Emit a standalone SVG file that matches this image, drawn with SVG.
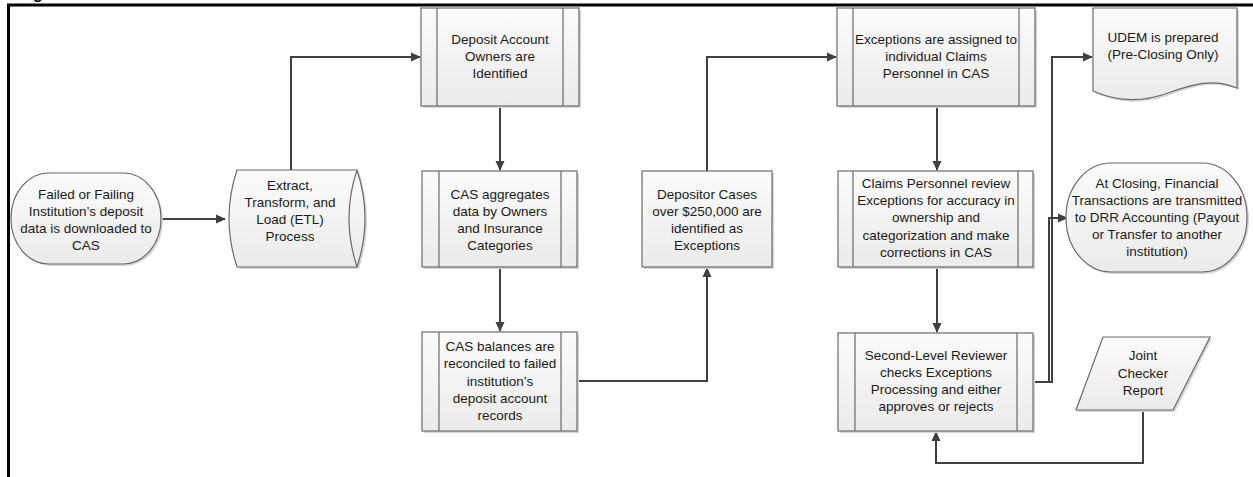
<svg xmlns="http://www.w3.org/2000/svg" width="1253" height="477" viewBox="0 0 1253 477">
<style>
.shape{fill:url(#g);stroke:#6b6b6b;stroke-width:1.2}
.shadow{fill:#d6d6d6}
.inner{stroke:#6b6b6b;stroke-width:1.2;fill:none}
.conn{fill:none;stroke:#404040;stroke-width:2}
text{font-family:"Liberation Sans",Arial,sans-serif;font-size:13.5px;fill:#1a1a1a;text-anchor:middle}
.frame{stroke:#000;stroke-width:3;fill:none}
</style>
<defs>
<linearGradient id="g" x1="0" y1="0" x2="0" y2="1">
<stop offset="0" stop-color="#fbfbfb"/>
<stop offset="1" stop-color="#ebebeb"/>
</linearGradient>
<marker id="arr" markerWidth="10" markerHeight="10" refX="9" refY="5" orient="auto" markerUnits="userSpaceOnUse">
<path d="M0,0.5 L10,5 L0,9.5 Z" fill="#404040"/>
</marker>
</defs>
<rect width="1253" height="477" fill="#fff"/>
<text x="38" y="-1" style="font-size:16px;font-weight:bold;fill:#000">g</text>
<path class="frame" d="M8.5,477 V5 H1253"/>

<g id="connectors">
<path class="conn" d="M161,219 H225" marker-end="url(#arr)"/>
<path class="conn" d="M291,170 V57 H420" marker-end="url(#arr)"/>
<path class="conn" d="M500,106 V170" marker-end="url(#arr)"/>
<path class="conn" d="M500,267 V331" marker-end="url(#arr)"/>
<path class="conn" d="M577,381 H707 V268" marker-end="url(#arr)"/>
<path class="conn" d="M707,171 V57 H836" marker-end="url(#arr)"/>
<path class="conn" d="M937,106 V170" marker-end="url(#arr)"/>
<path class="conn" d="M937,267 V332" marker-end="url(#arr)"/>
<path class="conn" d="M1033,382 H1052 V57 H1092" marker-end="url(#arr)"/>
<path class="conn" d="M1033,382 H1049 V218 H1067" marker-end="url(#arr)"/>
<path class="conn" d="M1143,410 V463 H936 V432" marker-end="url(#arr)"/>
</g>

<g id="n-failed">
<rect class="shadow" x="13" y="175" width="150" height="91" rx="38" ry="45"/>
<rect class="shape" x="11" y="173" width="150" height="91" rx="38" ry="45"/>
<text x="86" y="199">Failed or Failing</text>
<text x="86" y="216">Institution’s deposit</text>
<text x="86" y="233">data is downloaded to</text>
<text x="86" y="250">CAS</text>
</g>

<g id="n-etl">
<path class="shadow" d="M239,172 H359 Q375,220 359,269 H239 Q223,220 239,172 Z"/>
<path class="shape" d="M237,170 H357 Q373,218 357,267 H237 Q221,218 237,170 Z"/>
<path class="inner" d="M357,170 Q341,218 357,267"/>
<text x="290" y="190">Extract,</text>
<text x="290" y="207">Transform, and</text>
<text x="290" y="224">Load (ETL)</text>
<text x="290" y="241">Process</text>
</g>

<g id="n-owners">
<rect class="shadow" x="423" y="10" width="158" height="98"/>
<rect class="shape" x="421" y="8" width="158" height="98"/>
<path class="inner" d="M437,8 V106 M563,8 V106"/>
<text x="500" y="44">Deposit Account</text>
<text x="500" y="61">Owners are</text>
<text x="500" y="78">Identified</text>
</g>

<g id="n-aggregates">
<rect class="shadow" x="424" y="173" width="155" height="96"/>
<rect class="shape" x="422" y="171" width="155" height="96"/>
<path class="inner" d="M439,171 V267 M561,171 V267"/>
<text x="500" y="199">CAS aggregates</text>
<text x="500" y="216">data by Owners</text>
<text x="500" y="233">and Insurance</text>
<text x="500" y="250">Categories</text>
</g>

<g id="n-balances">
<rect class="shadow" x="424" y="334" width="155" height="99"/>
<rect class="shape" x="422" y="332" width="155" height="99"/>
<path class="inner" d="M439,332 V431 M561,332 V431"/>
<text x="500" y="351">CAS balances are</text>
<text x="500" y="368">reconciled to failed</text>
<text x="500" y="386">institution’s</text>
<text x="500" y="403">deposit account</text>
<text x="500" y="420">records</text>
</g>

<g id="n-depositor">
<rect class="shadow" x="644" y="173" width="130" height="96"/>
<rect class="shape" x="642" y="171" width="130" height="96"/>
<text x="707" y="199">Depositor Cases</text>
<text x="707" y="216">over $250,000 are</text>
<text x="707" y="233">identified as</text>
<text x="707" y="250">Exceptions</text>
</g>

<g id="n-assigned">
<rect class="shadow" x="839" y="10" width="198" height="98"/>
<rect class="shape" x="837" y="8" width="198" height="98"/>
<path class="inner" d="M853,8 V106 M1019,8 V106"/>
<text x="936" y="44">Exceptions are assigned to</text>
<text x="936" y="61">individual Claims</text>
<text x="936" y="78">Personnel in CAS</text>
</g>

<g id="n-review">
<rect class="shadow" x="840" y="173" width="195" height="96"/>
<rect class="shape" x="838" y="171" width="195" height="96"/>
<path class="inner" d="M853,171 V267 M1018,171 V267"/>
<text x="936" y="188">Claims Personnel review</text>
<text x="936" y="205">Exceptions for accuracy in</text>
<text x="936" y="222">ownership and</text>
<text x="936" y="240">categorization and make</text>
<text x="936" y="257">corrections in CAS</text>
</g>

<g id="n-second">
<rect class="shadow" x="840" y="335" width="195" height="98"/>
<rect class="shape" x="838" y="333" width="195" height="98"/>
<path class="inner" d="M855,333 V431 M1017,333 V431"/>
<text x="936" y="360">Second-Level Reviewer</text>
<text x="936" y="377">checks Exceptions</text>
<text x="936" y="394">Processing and either</text>
<text x="936" y="411">approves or rejects</text>
</g>

<g id="n-udem">
<path class="shadow" d="M1095,10 H1239 V90 C1215,80 1195,86 1170,95 C1140,106 1115,102 1095,93 Z"/>
<path class="shape" d="M1093,8 H1237 V88 C1213,78 1193,84 1168,93 C1138,104 1113,100 1093,91 Z"/>
<text x="1163" y="42">UDEM is prepared</text>
<text x="1163" y="59">(Pre-Closing Only)</text>
</g>

<g id="n-closing">
<rect class="shadow" x="1068" y="165" width="181" height="109" rx="45" ry="54"/>
<rect class="shape" x="1066" y="163" width="181" height="109" rx="45" ry="54"/>
<text x="1157" y="188">At Closing, Financial</text>
<text x="1157" y="205">Transactions are transmitted</text>
<text x="1157" y="222">to DRR Accounting (Payout</text>
<text x="1157" y="239">or Transfer to another</text>
<text x="1157" y="256">institution)</text>
</g>

<g id="n-joint">
<path class="shadow" d="M1105,339 H1212 L1175,412 H1078 Z"/>
<path class="shape" d="M1103,337 H1210 L1173,410 H1076 Z"/>
<text x="1143" y="360">Joint</text>
<text x="1143" y="378">Checker</text>
<text x="1143" y="395">Report</text>
</g>
</svg>
